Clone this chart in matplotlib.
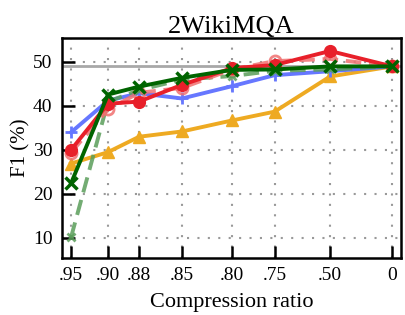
import matplotlib
matplotlib.use("Agg")
import matplotlib.pyplot as plt

plt.rcParams['font.family'] = ['Liberation Serif', 'DejaVu Serif']

ratios = ['.95', '.90', '.88', '.85', '.80', '.75', '.50', '0']
xpos = [0, 1.0, 1.84, 3.0, 4.35, 5.5, 7.0, 8.68]

full_ctx = 49.1

red = [30.0, 40.5, 41.0, 44.8, 48.6, 49.3, 52.5, 49.0]
red_dash = [29.4, 39.2, 43.0, 44.1, 48.3, 50.2, 50.7, 49.0]
blue = [34.0, 41.2, 42.9, 41.7, 44.5, 47.0, 47.9, 49.0]
green = [22.4, 42.6, 44.4, 46.4, 48.2, 48.3, 49.0, 49.0]
green_dash = [10.1, 41.0, 43.6, 46.0, 46.8, 48.0, 48.3, 49.0]
orange = [26.9, 29.5, 33.0, 34.2, 36.7, 38.7, 46.7, 49.0]

fig, ax = plt.subplots(figsize=(4.06, 3.15), dpi=100)
fig.subplots_adjust(left=0.153, right=0.988, top=0.88, bottom=0.182)

ax.axhline(full_ctx, color='#a8a8a8', lw=2, zorder=1)

ax.plot(xpos, orange, color='#eeaa22', lw=2.8, marker='^', ms=9, zorder=3)
ax.plot(xpos, blue, color='#6677ff', lw=2.8, marker='+', ms=9, mew=2, zorder=3)
ax.plot(xpos, green_dash, color='#5a9e5a', lw=2.8, ls='--', dashes=(4, 2), marker='x', ms=6, mew=2, alpha=0.85, zorder=3)
ax.plot(xpos, red_dash, color='#f07070', lw=2.8, ls='--', dashes=(4, 2), marker='o', ms=8, mfc='none', mew=2, alpha=0.85, zorder=4)
ax.plot(xpos, red, color='#e8202a', lw=2.8, marker='o', ms=8.5, zorder=5)
ax.plot(xpos, green, color='#006400', lw=2.8, marker='x', ms=8, mew=2.5, zorder=6)

ax.set_xlim(-0.24, 8.92)
ax.set_ylim(5.5, 55.5)
ax.set_xticks(xpos)
ax.set_xticklabels(ratios)
ax.set_yticks([10, 20, 30, 40, 50])
ax.tick_params(axis='both', direction='in', length=9, width=1.8, labelsize=14, pad=7)
ax.grid(True, ls=(0, (1, 4)), color='#999999', lw=1.5)
for s in ax.spines.values():
    s.set_linewidth(1.8)

ax.set_title('2WikiMQA', fontsize=19, pad=2)
ax.set_xlabel('Compression ratio', fontsize=16, labelpad=6)
ax.set_ylabel('F1 (%)', fontsize=15, labelpad=2)

fig.savefig('out.png', dpi=100)
